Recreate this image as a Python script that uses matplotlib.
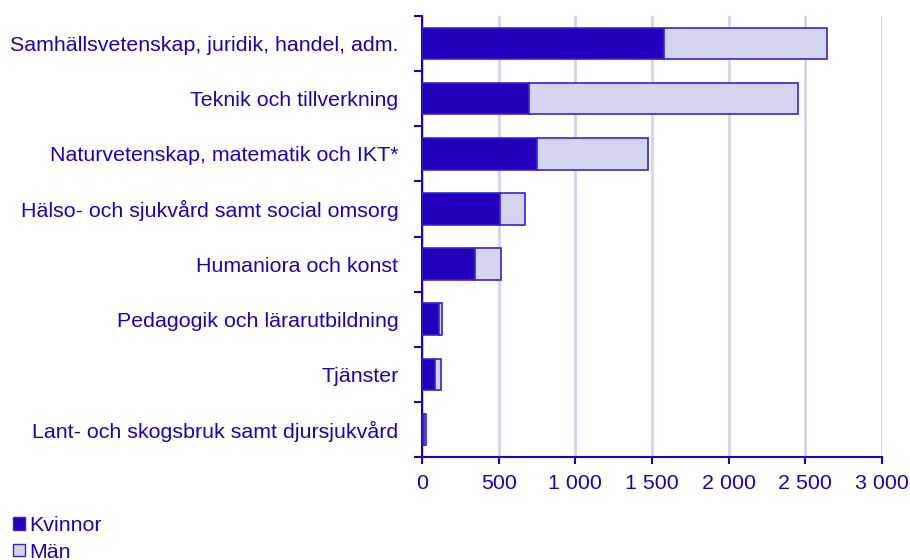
import numpy as np
import matplotlib
matplotlib.use('Agg')
import matplotlib.pyplot as plt
from matplotlib.patches import Patch

# Data
categories = [
    "Samhällsvetenskap, juridik, handel, adm.",
    "Teknik och tillverkning",
    "Naturvetenskap, matematik och IKT*",
    "Hälso- och sjukvård samt social omsorg",
    "Humaniora och konst",
    "Pedagogik och lärarutbildning",
    "Tjänster",
    "Lant- och skogsbruk samt djursjukvård",
]
kvinnor = [1578, 695, 750, 509, 345, 110, 83, 16]
man = [1065, 1756, 723, 162, 170, 20, 39, 12]
x_ticks = [0, 500, 1000, 1500, 2000, 2500, 3000]
x_labels = ["0", "500", "1 000", "1 500", "2 000", "2 500", "3 000"]

DARK = "#2200BB"
LIGHT = "#D4D4EE"
EDGE = "#3A22CC"
TEXT = "#2200BB"
GRID = "#D4D4EE"
FS = 15.4

plt.rcParams['font.family'] = ['Liberation Sans', 'DejaVu Sans']

fig = plt.figure(figsize=(9.1, 5.6), dpi=100)
ax = fig.add_axes([422 / 910, 1 - 457 / 560, 460 / 910, 441 / 560])

y = np.arange(len(categories))
ax.barh(y, kvinnor, height=0.57, color=DARK, edgecolor=EDGE, linewidth=1.2, zorder=3)
ax.barh(y, man, left=kvinnor, height=0.57, color=LIGHT, edgecolor=EDGE, linewidth=1.2, zorder=3)

ax.set_xlim(0, 3000)
ax.set_ylim(len(categories) - 0.5, -0.5)
ax.set_xticks(x_ticks)
ax.set_xticklabels(x_labels, color=TEXT, fontsize=FS)
ax.set_yticks(y)
ax.set_yticklabels(categories, color=TEXT, fontsize=FS)
ax.tick_params(axis='y', which='major', length=0, pad=17)
ax.set_yticks(np.arange(-0.5, len(categories)), minor=True)
ax.tick_params(axis='y', which='minor', length=6, width=1.5, color=TEXT, direction='out')
ax.tick_params(axis='x', length=5, width=1.5, color=TEXT, pad=7)

ax.grid(axis='x', color=GRID, linewidth=2, zorder=0)
for side in ['top', 'right']:
    ax.spines[side].set_visible(False)
for side in ['left', 'bottom']:
    ax.spines[side].set_color(TEXT)
    ax.spines[side].set_linewidth(1.5)

handles = [Patch(facecolor=DARK, edgecolor=EDGE, label="Kvinnor"),
           Patch(facecolor=LIGHT, edgecolor=EDGE, label="Män")]
leg = fig.legend(handles=handles, loc='lower left', bbox_to_anchor=(0.005, -0.018),
                 frameon=False, fontsize=FS, handlelength=0.55, handleheight=0.55,
                 handletextpad=0.2, labelspacing=0.35, borderaxespad=0.0)
for t in leg.get_texts():
    t.set_color(TEXT)

fig.savefig("out.png", dpi=100)
